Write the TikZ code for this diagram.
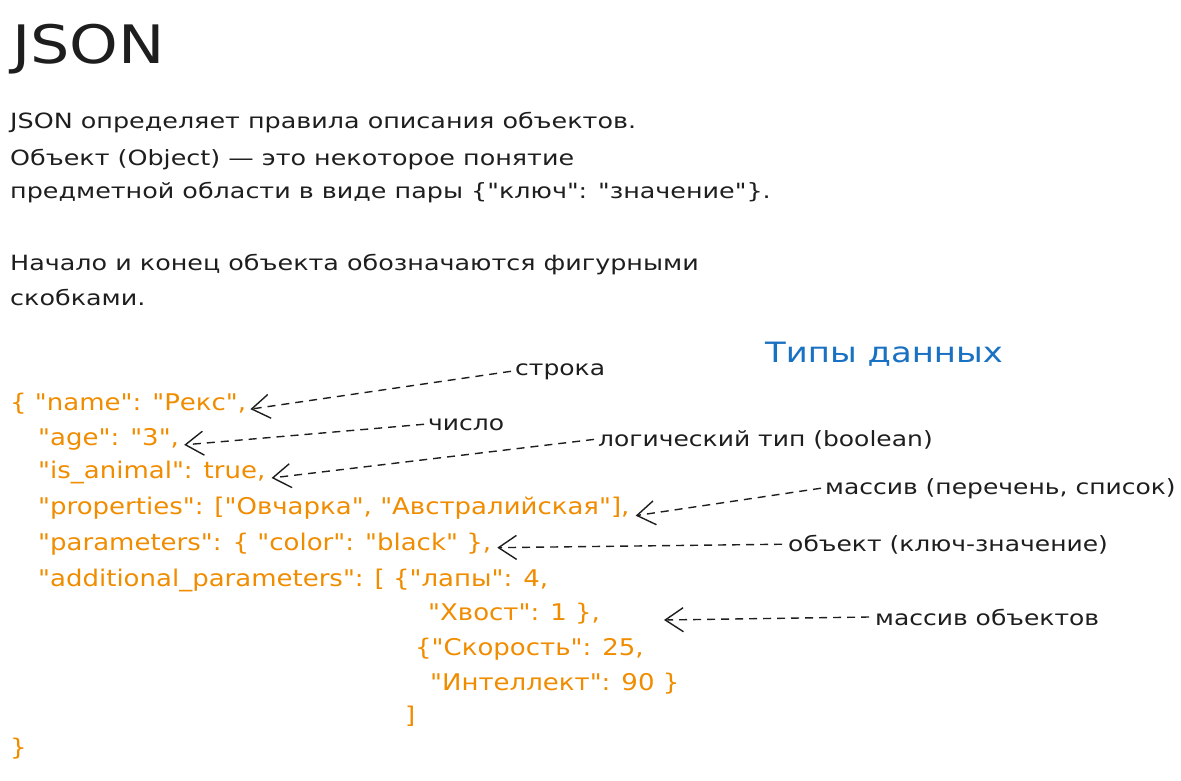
\documentclass[tikz,border=0pt]{standalone}
\usepackage{fontspec}
\setmainfont{DejaVu Sans}
\newfontfamily\hand[FakeStretch=1.21]{DejaVu Sans}
\newfontfamily\lblhand[FakeStretch=1.19]{DejaVu Sans}
\newfontfamily\codehand[FakeStretch=1.13]{DejaVu Sans}
\newfontfamily\titlehand[FakeStretch=1.17]{DejaVu Sans}
\usetikzlibrary{arrows.meta}
\definecolor{ink}{HTML}{1E1E1E}
\definecolor{code}{HTML}{F08C00}
\definecolor{accent}{HTML}{1971C2}
\tikzset{
  body/.style={anchor=base west, inner sep=0pt, text=ink, font=\hand\fontsize{21}{25}\selectfont},
  codeline/.style={anchor=base west, inner sep=0pt, text=code, font=\codehand\fontsize{23}{27}\selectfont},
  lbl/.style={anchor=base west, inner sep=0pt, text=ink, font=\lblhand\fontsize{21}{25}\selectfont},
  pointer/.style={draw=ink, line width=1.4pt, dash pattern=on 8pt off 6pt, -{Straight Barb[length=18pt,width=24pt,line width=1.4pt]}},
}
\begin{document}
\begin{tikzpicture}[x=1pt,y=-1pt]
\useasboundingbox (0,0) rectangle (1181,780);
\node[anchor=base west, inner sep=0pt, text=ink, font=\titlehand\fontsize{53}{60}\selectfont] (title) at (12,63) {JSON};
\node[body] (b1) at (10,128) {JSON определяет правила описания объектов.};
\node[body] (b2) at (10,165) {Объект (Object) — это некоторое понятие};
\node[body] (b3) at (10,198) {предметной области в виде пары \{"ключ": "значение"\}.};
\node[body] (b4) at (10,270) {Начало и конец объекта обозначаются фигурными};
\node[body] (b5) at (10,305) {скобками.};
\node[anchor=base west, inner sep=0pt, text=accent, font=\hand\fontsize{28}{32}\selectfont] (types) at (765,362) {Типы данных};
\node[codeline] (c1) at (10,410) {\{ "name": "Рекс",};
\node[codeline] (c2) at (38,445) {"age": "3",};
\node[codeline] (c3) at (38,478) {"is\_animal": true,};
\node[codeline] (c4) at (38,514) {"properties": ["Овчарка", "Австралийская"],};
\node[codeline] (c5) at (38,550) {"parameters": \{ "color": "black" \},};
\node[codeline] (c6) at (38,586) {"additional\_parameters": [ \{"лапы": 4,};
\node[codeline] (c7) at (428,620) {"Хвост": 1 \},};
\node[codeline] (c8) at (415,655) {\{"Скорость": 25,};
\node[codeline] (c9) at (430,690) {"Интеллект": 90 \}};
\node[codeline] (c10) at (405,723) {]};
\node[codeline] (c11) at (10,755) {\}};
\node[lbl] (l1) at (515,375) {строка};
\node[lbl] (l2) at (428,430) {число};
\node[lbl] (l3) at (598,446) {логический тип (boolean)};
\node[lbl] (l4) at (825,494) {массив (перечень, список)};
\node[lbl] (l5) at (788,551) {объект (ключ-значение)};
\node[lbl] (l6) at (875,625) {массив объектов};
\coordinate (t6) at (664,620);
\draw[pointer] (l1.west) ++(-4,0) -- ([xshift=4pt,yshift=-6pt]c1.east);
\draw[pointer] (l2.west) ++(-4,0) -- ([xshift=5pt,yshift=-6pt]c2.east);
\draw[pointer] (l3.west) ++(-4,0) -- ([xshift=6pt,yshift=-6pt]c3.east);
\draw[pointer] (l4.west) ++(-4,0) -- ([xshift=6pt,yshift=-8pt]c4.east);
\draw[pointer] (l5.west) ++(-6,0) -- ([xshift=6pt,yshift=-4pt]c5.east);
\draw[pointer] (l6.west) ++(-6,0) -- (t6);
\end{tikzpicture}
\end{document}
